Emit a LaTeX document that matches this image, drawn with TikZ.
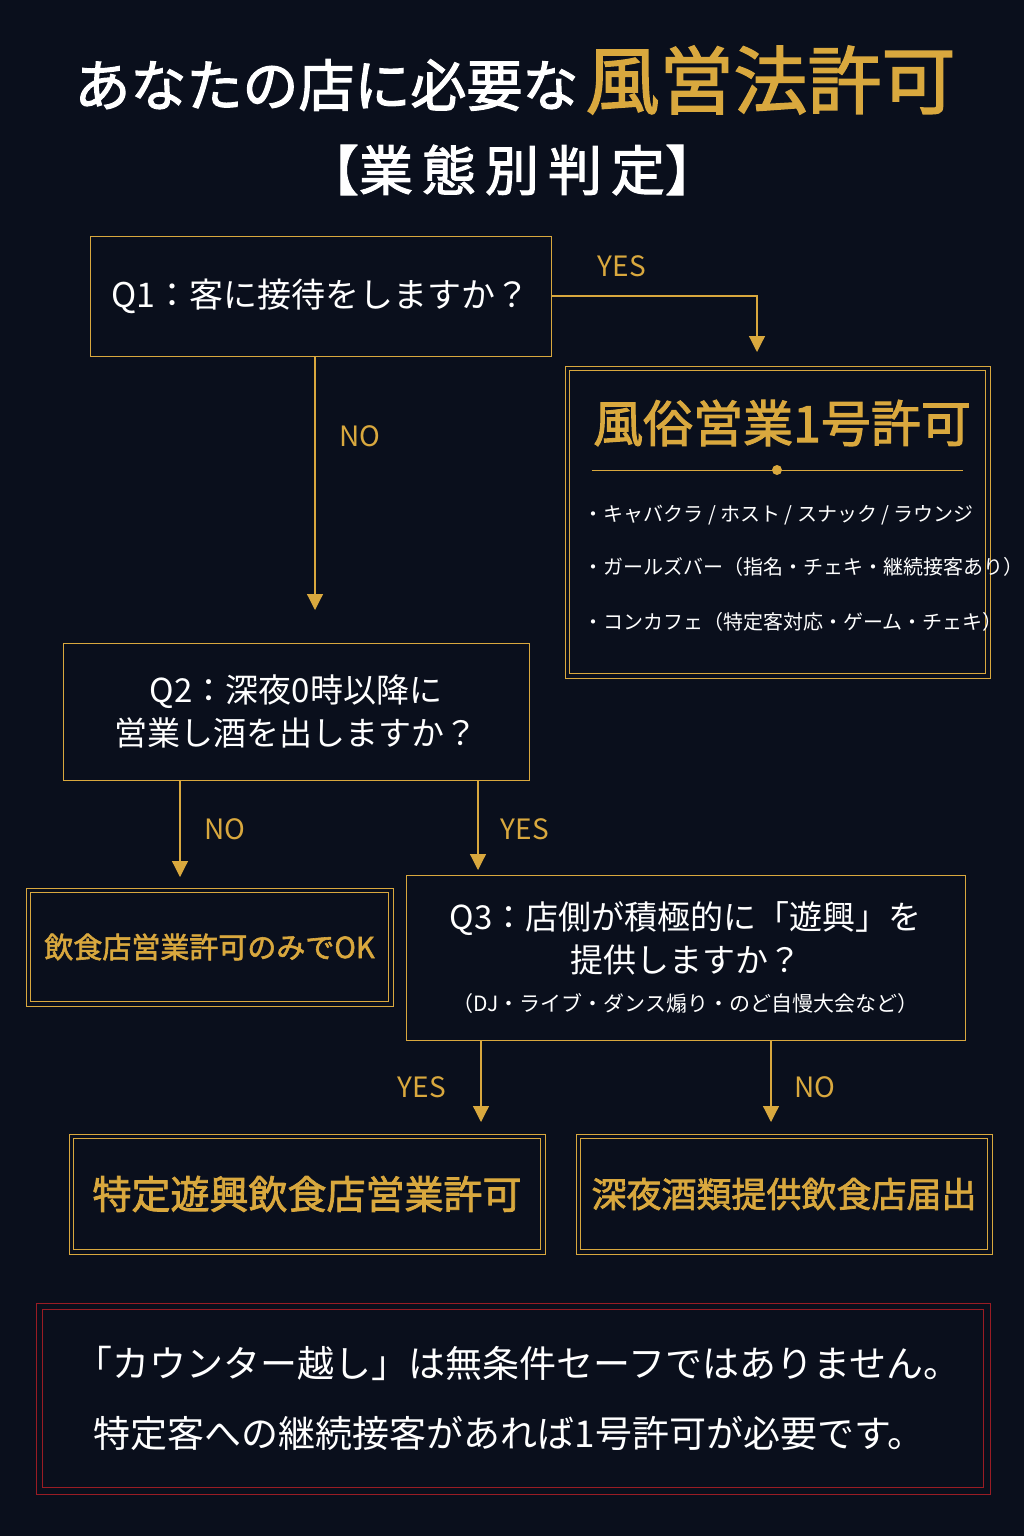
\documentclass[tikz,border=0pt]{standalone}
\usepackage{fontspec}
\setmainfont{Noto Sans CJK JP}
\newfontfamily\cjkb{Noto Sans CJK JP}[FakeBold=2]
\usetikzlibrary{calc,positioning,arrows.meta}
\definecolor{navy}{HTML}{0A0F1C}
\definecolor{gold}{HTML}{D9A83E}
\definecolor{wine}{HTML}{9A1C24}
\tikzset{
    fs/.style={font=\fontsize{#1}{\dimexpr #1pt*13/10\relax}\selectfont},
    question/.style={draw=gold, thick, align=center, text=white, inner sep=0pt},
    result/.style={draw=gold, thick, align=center, text=gold, inner sep=0pt},
    flow/.style={draw=gold, very thick, -{Triangle[length=16pt,width=16pt]}},
    answer/.style={text=gold, fs=28},
}
\newcommand{\innerframe}[3]{\draw[#2, thin] ($(#1.north west)+(#3,#3)$) rectangle ($(#1.south east)+(-#3,-#3)$);}
\begin{document}
\begin{tikzpicture}[x=1pt, y=-1pt]
    % background
    \fill[navy] (0,0) rectangle (1024,1536);
    \useasboundingbox (0,0) rectangle (1024,1536);

    % title
    \node[text=white, fs=56, anchor=east] (title) at (582,85) {\cjkb あなたの店に必要な};
    \node[text=gold, fs=74, anchor=west] (titleb) at (582,80) {\cjkb 風営法許可};
    \node[text=white, fs=54] (sub) at (512,170) {\cjkb 【業\,態\,別\,判\,定】};

    % questions
    \node[question, minimum width=461, minimum height=120, fs=34] (q1) at (320.5,296) {Q1：客に接待をしますか？};
    \node[question, minimum width=466, minimum height=137, fs=33] (q2) at (296,711.5) {Q2：深夜0時以降に\\営業し酒を出しますか？};
    \node[question, minimum width=559, minimum height=165, fs=33] (q3) at (685.5,957.5)
        {Q3：店側が積極的に「遊興」を\\提供しますか？\\[-4pt]{\fontsize{21}{28}\selectfont （DJ・ライブ・ダンス煽り・のど自慢大会など）}};

    % results
    \node[result, minimum width=425, minimum height=312] (lic1) at (777.5,522) {};
    \innerframe{lic1}{gold}{5}
    \node[text=gold, fs=50] (lic1t) at (782,423) {\cjkb 風俗営業1号許可};
    \draw[gold, thick] ($(lic1.west)+(27,-52)$) -- ($(lic1.east)+(-27,-52)$);
    \fill[gold] (777,470) circle (5pt);
    \node[text=white, fs=20, anchor=west] (item1) at (580,515) {・キャバクラ / ホスト / スナック / ラウンジ};
    \node[text=white, fs=20, anchor=west] (item2) at (580,567) {・ガールズバー（指名・チェキ・継続接客あり）};
    \node[text=white, fs=20, anchor=west] (item3) at (580,622) {・コンカフェ（特定客対応・ゲーム・チェキ）};

    \node[result, minimum width=367, minimum height=118, fs=29] (food) at (209.5,947) {\cjkb 飲食店営業許可のみでOK};
    \innerframe{food}{gold}{5}
    \node[result, minimum width=476, minimum height=120, fs=39] (yuko) at (307,1194) {\cjkb 特定遊興飲食店営業許可};
    \innerframe{yuko}{gold}{5}
    \node[result, minimum width=416, minimum height=120, fs=35] (shinya) at (784,1194) {\cjkb 深夜酒類提供飲食店届出};
    \innerframe{shinya}{gold}{5}

    % connectors
    \coordinate (c1) at (757,352);
    \draw[flow] (q1.east) -| (c1);
    \node[answer] (y1) at (622,266) {YES};
    \coordinate (c2) at (315,610);
    \draw[flow] (q1.south -| c2) -- (c2);
    \node[answer] (n1) at (360,436) {NO};
    \coordinate (c3) at (180,877);
    \draw[flow] (q2.south -| c3) -- (c3);
    \node[answer] (n2) at (225,829) {NO};
    \coordinate (c4) at (478,870);
    \draw[flow] (q2.south -| c4) -- (c4);
    \node[answer] (y2) at (525,829) {YES};
    \coordinate (c5) at (481,1122);
    \draw[flow] (q3.south -| c5) -- (c5);
    \node[answer] (y3) at (422,1087) {YES};
    \coordinate (c6) at (771,1122);
    \draw[flow] (q3.south -| c6) -- (c6);
    \node[answer] (n3) at (815,1087) {NO};

    % warning
    \node[draw=wine, thick, minimum width=954, minimum height=191, inner sep=0pt] (warn) at (513,1398.5) {};
    \innerframe{warn}{wine}{7}
    \node[text=white, fs=37, align=left] (warnt) at (518,1398) {「カウンター越し」は無条件セーフではありません。\\[22pt]\hspace*{18pt}特定客への継続接客があれば1号許可が必要です。};
\end{tikzpicture}
\end{document}
